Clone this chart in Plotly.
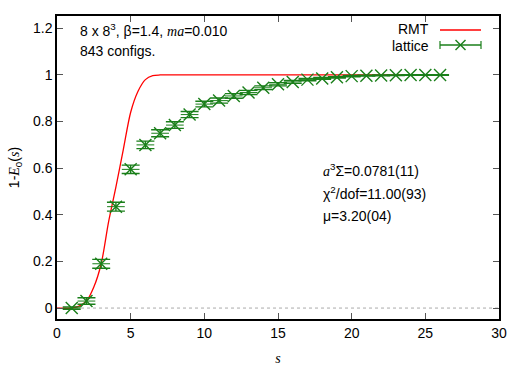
import plotly.graph_objects as go

# ---- data ----
s_lat = [1, 2, 3, 4, 5, 6, 7, 8, 9, 10, 11, 12, 13, 14, 15, 16, 17, 18, 19, 20,
         21, 22, 23, 24, 25, 26]
y_lat = [0.0, 0.03, 0.19, 0.435, 0.595, 0.70, 0.75, 0.785, 0.83, 0.875, 0.89,
         0.91, 0.925, 0.945, 0.96, 0.97, 0.98, 0.985, 0.99, 0.995, 0.997, 0.998,
         0.999, 1.0, 1.0, 1.0]
dy_lat = [0.005, 0.014, 0.019, 0.019, 0.018, 0.016, 0.015, 0.014, 0.013, 0.012,
          0.011, 0.010, 0.009, 0.008, 0.007, 0.006, 0.005, 0.004, 0.003, 0.003,
          0.002, 0.002, 0.001, 0.001, 0.001, 0.001]
dx_lat = [0.6] * len(s_lat)

s_rmt = [0.0, 1.0, 1.5, 2.0, 2.5, 3.0, 3.5, 4.0, 4.5, 5.0, 5.5, 6.0, 6.5, 7.0, 10.0, 26.5]
y_rmt = [0.0, 0.0, 0.008, 0.03, 0.09, 0.19, 0.37, 0.52, 0.68, 0.84, 0.93, 0.98,
         0.997, 1.0, 1.0, 1.0]

x_ticks = [0, 5, 10, 15, 20, 25, 30]
y_ticks = [0, 0.2, 0.4, 0.6, 0.8, 1.0, 1.2]

RED = "#ff0000"
GREEN = "#1a7f1a"
SERIF = "Liberation Serif"
SANS = "Liberation Sans, Arial, sans-serif"
FS = 14

def it(t):
    return f"<span style='font-family:{SERIF}'><i>{t}</i></span>"

fig = go.Figure()

fig.add_trace(go.Scatter(
    x=s_rmt, y=y_rmt, mode="lines", line=dict(color=RED, width=1.3, shape="spline", smoothing=0.8),
    showlegend=False, hoverinfo="skip"))

fig.add_trace(go.Scatter(
    x=s_lat, y=y_lat, mode="markers",
    marker=dict(symbol="x-thin-open", size=12, color=GREEN, line=dict(color=GREEN, width=1.4)),
    error_y=dict(type="data", array=dy_lat, visible=True, color=GREEN, thickness=1.4, width=9),
    error_x=dict(type="data", array=dx_lat, visible=True, color=GREEN, thickness=1.0, width=0),
    showlegend=False))

# plot geometry (pixels) for paper coordinates
L, R, T, B = 57, 499, 16, 319
W, H = R - L, B - T
def px(x):
    return (x - L) / W
def py(y):
    return (B - y) / H

shapes = [
    dict(type="line", xref="paper", yref="y", x0=0, x1=1, y0=0, y1=0,
         line=dict(color="#aaaaaa", width=1, dash="dot"), layer="below"),
    # legend samples
    dict(type="line", xref="paper", yref="paper", x0=px(440), x1=px(481), y0=py(30), y1=py(30),
         line=dict(color=RED, width=1.3)),
    dict(type="line", xref="paper", yref="paper", x0=px(440), x1=px(481), y0=py(45), y1=py(45),
         line=dict(color=GREEN, width=1.4)),
    dict(type="line", xref="paper", yref="paper", x0=px(440), x1=px(440), y0=py(41), y1=py(49),
         line=dict(color=GREEN, width=1.2)),
    dict(type="line", xref="paper", yref="paper", x0=px(481), x1=px(481), y0=py(41), y1=py(49),
         line=dict(color=GREEN, width=1.2)),
    dict(type="line", xref="paper", yref="paper", x0=px(455.5), x1=px(465.5), y0=py(40), y1=py(50),
         line=dict(color=GREEN, width=1.4)),
    dict(type="line", xref="paper", yref="paper", x0=px(455.5), x1=px(465.5), y0=py(50), y1=py(40),
         line=dict(color=GREEN, width=1.4)),
]

def ann(text, x, y, xanchor="left"):
    return dict(text=text, xref="paper", yref="paper", x=px(x), y=py(y), xanchor=xanchor,
                yanchor="middle", showarrow=False, font=dict(family=SANS, size=FS, color="black"))

annotations = [
    ann(f"8 x 8<sup>3</sup>, β=1.4, {it('ma')}=0.010", 78, 30),
    ann("843 configs.", 78, 51),
    ann("RMT", 431, 29, "right"),
    ann("lattice", 431, 46, "right"),
    ann(f"{it('a')}<sup>3</sup>Σ=0.0781(11)", 321, 170),
    ann("χ<sup>2</sup>/dof=11.00(93)", 321, 193),
    ann("μ=3.20(04)", 321, 216),
]

fig.update_layout(
    width=525, height=367,
    margin=dict(l=L, r=525 - R, t=T, b=367 - B),
    paper_bgcolor="white", plot_bgcolor="white",
    font=dict(family=SANS, size=FS, color="black"),
    showlegend=False,
    shapes=shapes, annotations=annotations,
    xaxis=dict(range=[0, 30], tickvals=x_ticks, ticktext=[str(v) for v in x_ticks],
               ticks="inside", ticklen=6, tickcolor="#555555", mirror="allticks",
               showline=True, linecolor="black", linewidth=1.5, showgrid=False, zeroline=False,
               automargin=False,
               title=dict(text=it("s"), font=dict(size=FS), standoff=14)),
    yaxis=dict(range=[-0.047, 1.253], tickvals=y_ticks,
               ticktext=["0", "0.2", "0.4", "0.6", "0.8", "1", "1.2"],
               ticks="inside", ticklen=6, tickcolor="#555555", mirror="allticks",
               showline=True, linecolor="black", linewidth=1.5, showgrid=False, zeroline=False,
               automargin=False,
               title=dict(text=f"1-{it('E')}<sub>0</sub>({it('s')})", font=dict(size=FS), standoff=10)),
)

fig.write_html("out.html")
